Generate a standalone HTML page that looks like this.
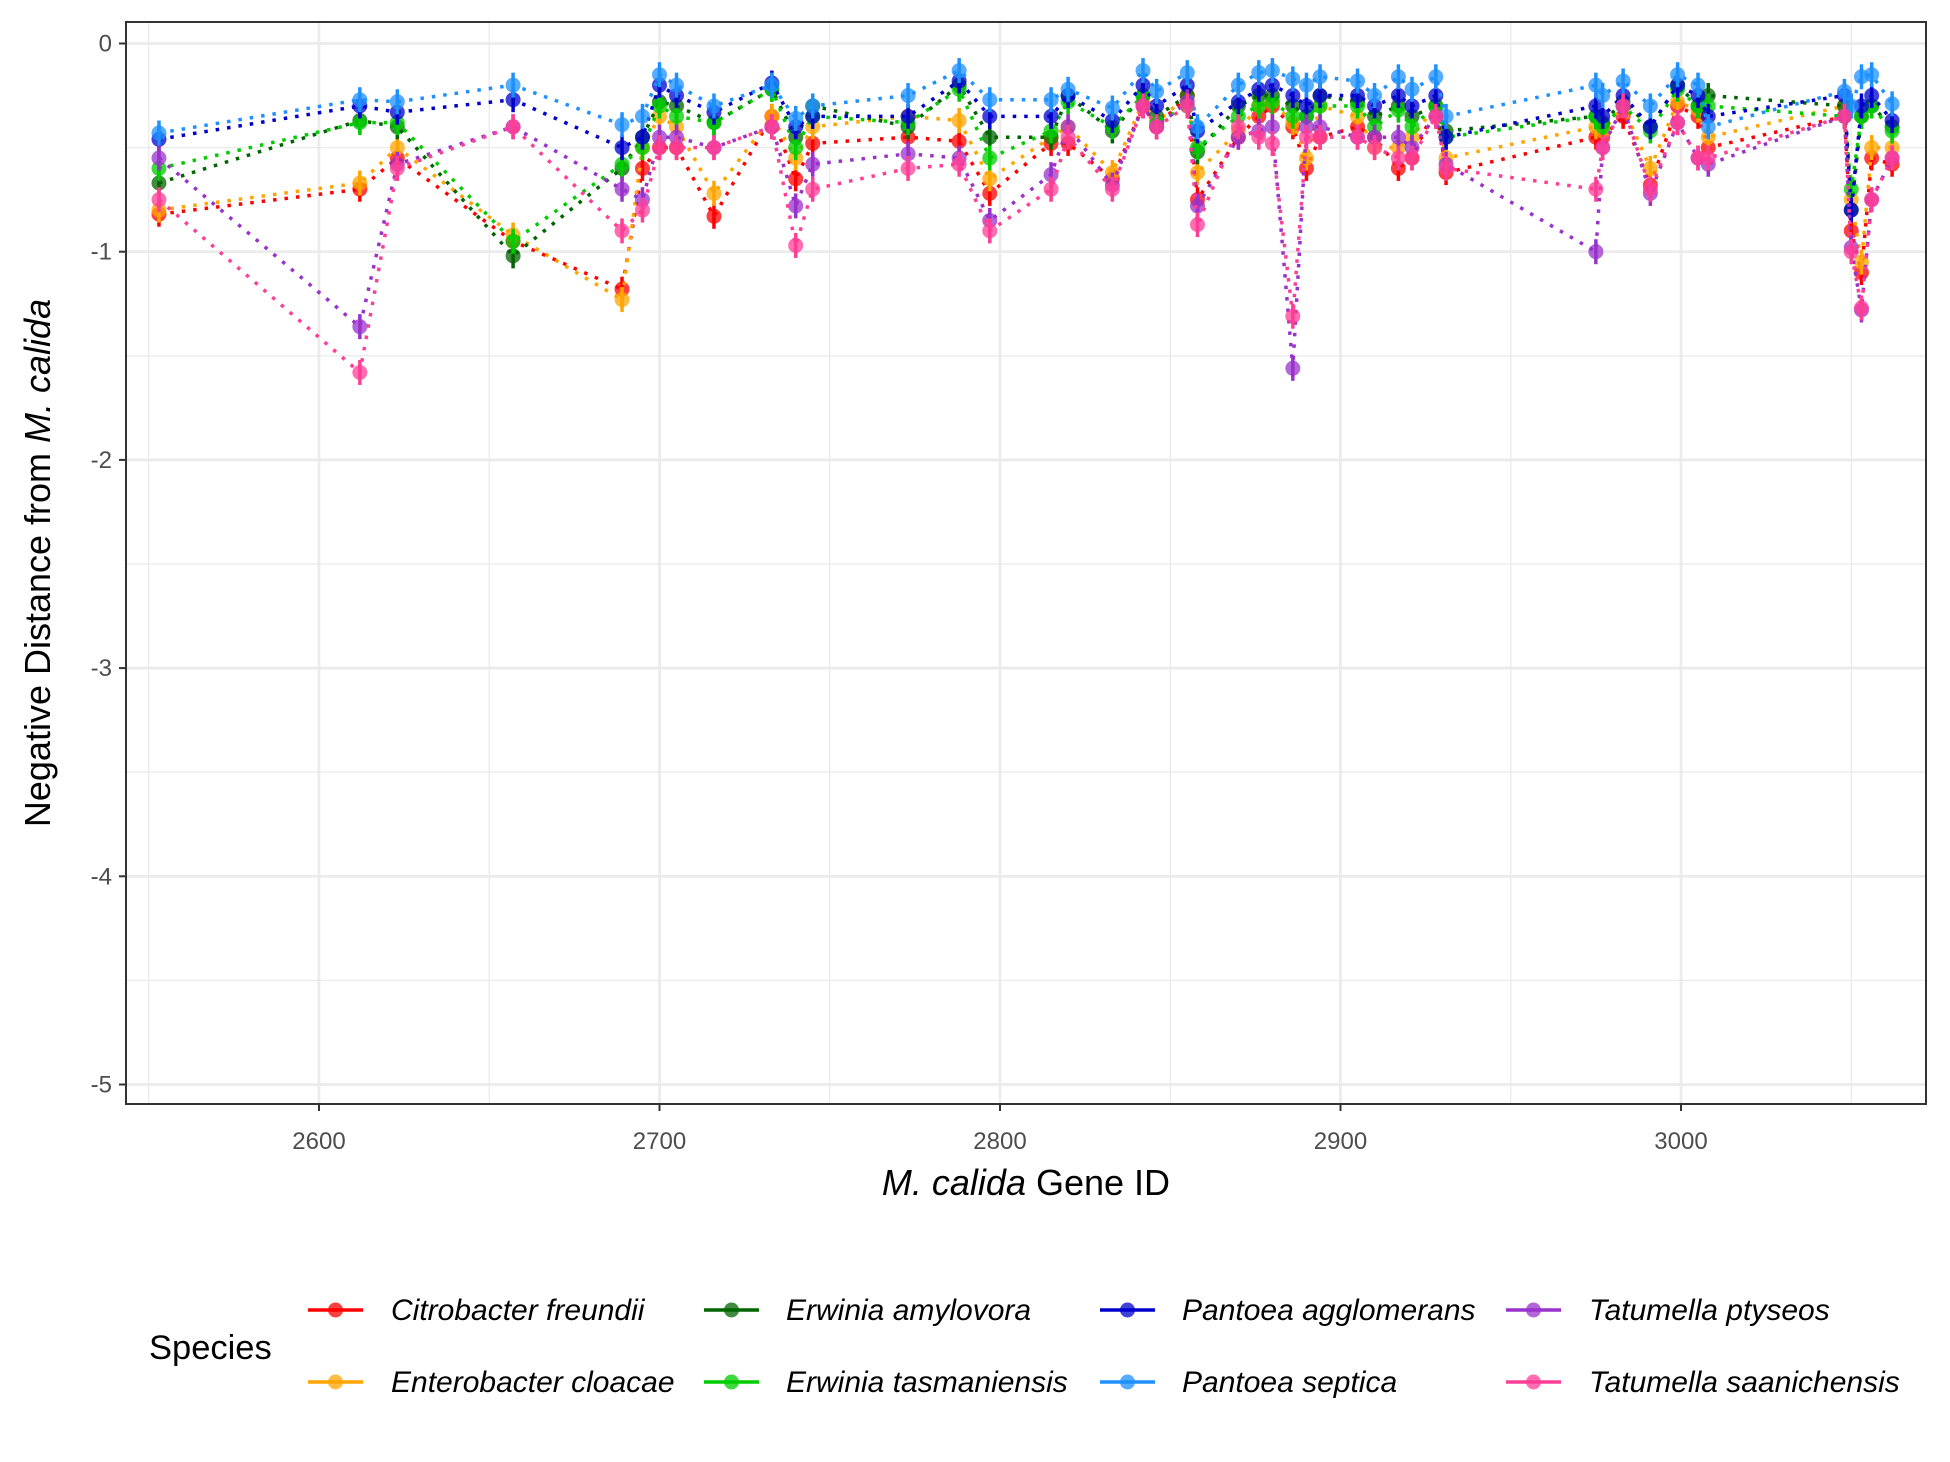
<!DOCTYPE html>
<html><head><meta charset="utf-8">
<style>
html,body{margin:0;padding:0;background:#fff;}
svg{display:block;font-family:"Liberation Sans",Arial,sans-serif;}
</style></head>
<body>
<svg id="chart" width="1950" height="1462" viewBox="0 0 1950 1462" xmlns="http://www.w3.org/2000/svg">
<rect width="1950" height="1462" fill="#fff"/>
<g id="grid"></g>
<g id="series"></g>
<rect x="126" y="22" width="1800" height="1082" fill="none" stroke="#333" stroke-width="2"/>
<g id="axes"></g>
<text transform="translate(50,563) rotate(-90)" text-anchor="middle" font-size="36" fill="#000">Negative Distance from <tspan font-style="italic">M. calida</tspan></text>
<text x="1026" y="1195" text-anchor="middle" font-size="36" fill="#000"><tspan font-style="italic">M. calida</tspan> Gene ID</text>
<g id="legend">
<text x="149" y="1359" font-size="34.5" fill="#000">Species</text>
</g>
</svg>
<script>
const geneIds=[2553,2612,2623,2657,2689,2695,2700,2705,2716,2733,2740,2745,2773,2788,2797,2815,2820,2833,2842,2846,2855,2858,2870,2876,2880,2886,2890,2894,2905,2910,2917,2921,2928,2931,2975,2977,2983,2991,2999,3005,3008,3048,3050,3053,3056,3062];
const speciesNames=["Citrobacter freundii","Enterobacter cloacae","Erwinia amylovora","Erwinia tasmaniensis","Pantoea agglomerans","Pantoea septica","Tatumella ptyseos","Tatumella saanichensis"];
const speciesColors=["#ff0000","#ffa500","#006400","#00cc00","#0000cd","#1e90ff","#9932cc","#ff3e96"];
const citrobacter=[-0.82,-0.7,-0.55,-0.95,-1.18,-0.6,-0.5,-0.5,-0.83,-0.35,-0.65,-0.48,-0.45,-0.47,-0.72,-0.48,-0.48,-0.65,-0.3,-0.4,-0.25,-0.75,-0.45,-0.35,-0.3,-0.4,-0.6,-0.45,-0.4,-0.45,-0.6,-0.55,-0.3,-0.62,-0.45,-0.45,-0.35,-0.68,-0.3,-0.35,-0.5,-0.35,-0.9,-1.1,-0.55,-0.58];
const enterobacter=[-0.8,-0.67,-0.5,-0.92,-1.23,-0.5,-0.35,-0.4,-0.72,-0.35,-0.55,-0.4,-0.35,-0.37,-0.65,-0.45,-0.4,-0.62,-0.28,-0.38,-0.25,-0.62,-0.42,-0.3,-0.28,-0.38,-0.55,-0.3,-0.35,-0.5,-0.5,-0.45,-0.3,-0.55,-0.4,-0.42,-0.3,-0.6,-0.28,-0.32,-0.45,-0.3,-0.75,-1.05,-0.5,-0.5];
const erwiniaAmylovora=[-0.67,-0.37,-0.4,-1.02,-0.6,-0.45,-0.28,-0.3,-0.38,-0.22,-0.45,-0.3,-0.4,-0.2,-0.45,-0.45,-0.25,-0.42,-0.25,-0.35,-0.25,-0.52,-0.3,-0.25,-0.25,-0.3,-0.35,-0.25,-0.28,-0.35,-0.3,-0.35,-0.3,-0.42,-0.35,-0.38,-0.28,-0.4,-0.2,-0.3,-0.25,-0.3,-0.8,-0.35,-0.3,-0.4];
const erwiniaTasmaniensis=[-0.6,-0.38,-0.38,-0.95,-0.58,-0.5,-0.3,-0.35,-0.38,-0.22,-0.5,-0.35,-0.38,-0.22,-0.55,-0.42,-0.28,-0.4,-0.25,-0.38,-0.3,-0.5,-0.35,-0.3,-0.28,-0.35,-0.35,-0.3,-0.3,-0.4,-0.32,-0.4,-0.3,-0.45,-0.35,-0.4,-0.3,-0.42,-0.22,-0.3,-0.3,-0.35,-0.7,-0.35,-0.3,-0.42];
const pantoeaAgglomerans=[-0.46,-0.3,-0.33,-0.27,-0.5,-0.45,-0.2,-0.25,-0.33,-0.19,-0.4,-0.35,-0.35,-0.18,-0.35,-0.35,-0.25,-0.37,-0.2,-0.3,-0.2,-0.42,-0.28,-0.22,-0.2,-0.25,-0.3,-0.25,-0.25,-0.3,-0.25,-0.3,-0.25,-0.45,-0.3,-0.35,-0.25,-0.4,-0.2,-0.25,-0.35,-0.25,-0.8,-0.3,-0.25,-0.37];
const pantoeaSeptica=[-0.43,-0.27,-0.28,-0.2,-0.39,-0.35,-0.15,-0.2,-0.3,-0.2,-0.36,-0.3,-0.25,-0.13,-0.27,-0.27,-0.22,-0.31,-0.13,-0.23,-0.14,-0.4,-0.2,-0.14,-0.13,-0.17,-0.2,-0.16,-0.18,-0.25,-0.16,-0.22,-0.16,-0.35,-0.2,-0.25,-0.18,-0.3,-0.15,-0.2,-0.4,-0.23,-0.3,-0.16,-0.15,-0.29];
const tatumellaPtyseos=[-0.55,-1.36,-0.58,-0.4,-0.7,-0.75,-0.45,-0.45,-0.5,-0.4,-0.78,-0.58,-0.53,-0.55,-0.85,-0.63,-0.4,-0.68,-0.3,-0.4,-0.28,-0.78,-0.45,-0.42,-0.4,-1.56,-0.4,-0.4,-0.45,-0.45,-0.45,-0.5,-0.35,-0.58,-1.0,-0.5,-0.3,-0.72,-0.38,-0.55,-0.58,-0.35,-0.98,-1.28,-0.75,-0.55];
const tatumellaSaanichensis=[-0.75,-1.58,-0.6,-0.4,-0.9,-0.8,-0.5,-0.5,-0.5,-0.4,-0.97,-0.7,-0.6,-0.58,-0.9,-0.7,-0.45,-0.7,-0.3,-0.4,-0.3,-0.87,-0.4,-0.45,-0.48,-1.31,-0.45,-0.45,-0.45,-0.5,-0.55,-0.55,-0.35,-0.6,-0.7,-0.5,-0.3,-0.7,-0.38,-0.55,-0.55,-0.35,-1.0,-1.27,-0.75,-0.55];
const errHalf=0.06;
const xTicks=[2600,2700,2800,2900,3000];
const xMinor=[2550,2650,2750,2850,2950,3050];
const yTicks=[0,-1,-2,-3,-4,-5];
const yMinor=[-0.5,-1.5,-2.5,-3.5,-4.5];

const NS="http://www.w3.org/2000/svg";
const xs=v=>319+(v-2600)*3.405;
const ys=v=>43.5-v*208.2;
function mk(tag,attrs,parent){const e=document.createElementNS(NS,tag);for(const k in attrs)e.setAttribute(k,attrs[k]);parent.appendChild(e);return e;}
const grid=document.getElementById('grid'),axes=document.getElementById('axes'),ser=document.getElementById('series'),leg=document.getElementById('legend');
xMinor.forEach(v=>{const l=mk('line',{x1:xs(v),x2:xs(v),y1:22,y2:1104,stroke:'#ebebeb','stroke-width':1.3},grid);

});
yMinor.forEach(v=>{const l=mk('line',{x1:126,x2:1926,y1:ys(v),y2:ys(v),stroke:'#ebebeb','stroke-width':1.3},grid);

});
xTicks.forEach(v=>{const l=mk('line',{x1:xs(v),x2:xs(v),y1:22,y2:1104,stroke:'#ebebeb','stroke-width':2.7},grid);


const t=mk('line',{x1:xs(v),x2:xs(v),y1:1104,y2:1111,stroke:'#333','stroke-width':2},axes);


const tx=mk('text',{x:xs(v),y:1149,'text-anchor':'middle','font-size':24,fill:'#4d4d4d'},axes);tx.textContent=v;

});
yTicks.forEach(v=>{const l=mk('line',{x1:126,x2:1926,y1:ys(v),y2:ys(v),stroke:'#ebebeb','stroke-width':2.7},grid);


const t=mk('line',{x1:119,x2:126,y1:ys(v),y2:ys(v),stroke:'#333','stroke-width':2},axes);


const tx=mk('text',{x:112,y:ys(v)+8,'text-anchor':'end','font-size':24,fill:'#4d4d4d'},axes);tx.textContent=v;

});
const allSeries=[citrobacter,enterobacter,erwiniaAmylovora,erwiniaTasmaniensis,pantoeaAgglomerans,pantoeaSeptica,tatumellaPtyseos,tatumellaSaanichensis];
allSeries.forEach((vals,si)=>{
  const c=speciesColors[si];
  const g=mk('g',{},ser);
  
  
  const pts=vals.map((v,i)=>xs(geneIds[i])+','+ys(v)).join(' ');
  const pl=mk('polyline',{points:pts,fill:'none',stroke:c,'stroke-width':3.5,'stroke-dasharray':'3.5 8'},g);
  
  
  vals.forEach((v,i)=>{
    const e=mk('line',{x1:xs(geneIds[i]),x2:xs(geneIds[i]),y1:ys(v+errHalf),y2:ys(v-errHalf),stroke:c,'stroke-width':3.5},g);
    
    
    const p=mk('circle',{cx:xs(geneIds[i]),cy:ys(v),r:7.5,fill:c,'fill-opacity':0.75},g);
    
    
  });
});
const colX=[[308,391],[704,786],[1100,1182],[1506,1589]];
const rowY=[1310,1382];
speciesNames.forEach((n,i)=>{
  const col=Math.floor(i/2),row=i%2;
  const [kx,tx]=colX[col],y=rowY[row];
  const g=mk('g',{},leg);
  
  
  mk('line',{x1:kx,x2:kx+55,y1:y,y2:y,stroke:speciesColors[i],'stroke-width':3.5},g);
  mk('circle',{cx:kx+27.5,cy:y,r:7.5,fill:speciesColors[i],'fill-opacity':0.75},g);
  const t=mk('text',{x:tx,y:y+10,'font-size':30,'font-style':'italic',fill:'#000'},g);t.textContent=n;
});
</script>
</body></html>
